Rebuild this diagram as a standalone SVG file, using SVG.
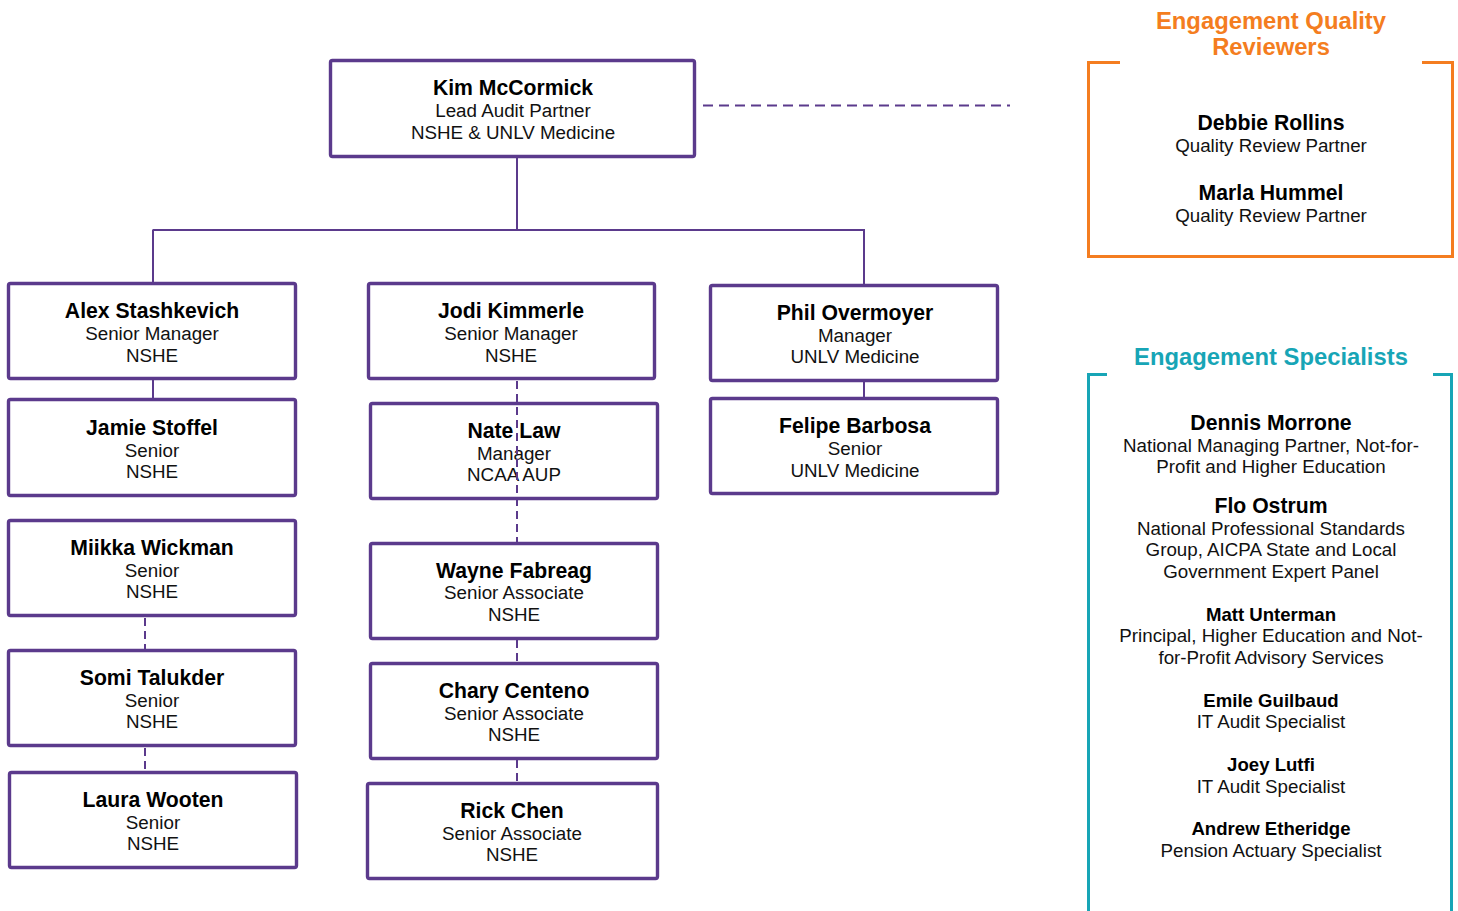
<svg xmlns="http://www.w3.org/2000/svg" width="1458" height="911" viewBox="0 0 1458 911">
<style>
.box{fill:#fff;stroke:#5B3A8C;stroke-width:3.4}
.n{font-family:"Liberation Sans",Arial,sans-serif;font-weight:bold;font-size:21.2px;fill:#000;text-anchor:middle}
.t{font-family:"Liberation Sans",Arial,sans-serif;font-size:18.8px;fill:#111;text-anchor:middle}
.sn{font-family:"Liberation Sans",Arial,sans-serif;font-weight:bold;font-size:18.6px;fill:#000;text-anchor:middle}
.st{font-family:"Liberation Sans",Arial,sans-serif;font-size:18.75px;fill:#111;text-anchor:middle}
.solid{stroke:#5B3A8C;stroke-width:2;fill:none}
.dash{stroke:#5B3A8C;stroke-width:2;fill:none;stroke-dasharray:8 5}
.hd{font-family:"Liberation Sans",Arial,sans-serif;font-weight:bold;font-size:23.8px;text-anchor:middle}
</style>
<rect width="1458" height="911" fill="#fff"/>

<g id="kim"><rect class="box" x="330.5" y="60.5" width="364" height="96" rx="2"/>
<text class="n" x="513" y="95">Kim McCormick</text><text class="t" x="513" y="117">Lead Audit Partner</text><text class="t" x="513" y="139">NSHE &amp; UNLV Medicine</text></g>

<g id="alex"><rect class="box" x="8.5" y="283.5" width="287" height="95" rx="2"/>
<text class="n" x="152" y="318">Alex Stashkevich</text><text class="t" x="152" y="340">Senior Manager</text><text class="t" x="152" y="362">NSHE</text></g>
<g id="jamie"><rect class="box" x="8.5" y="399.5" width="287" height="96" rx="2"/>
<text class="n" x="152" y="435">Jamie Stoffel</text><text class="t" x="152" y="457">Senior</text><text class="t" x="152" y="478">NSHE</text></g>
<g id="miikka"><rect class="box" x="8.5" y="520.5" width="287" height="95" rx="2"/>
<text class="n" x="152" y="555">Miikka Wickman</text><text class="t" x="152" y="577">Senior</text><text class="t" x="152" y="598">NSHE</text></g>
<g id="somi"><rect class="box" x="8.5" y="650.5" width="287" height="95" rx="2"/>
<text class="n" x="152" y="685">Somi Talukder</text><text class="t" x="152" y="707">Senior</text><text class="t" x="152" y="728">NSHE</text></g>
<g id="laura"><rect class="box" x="9.5" y="772.5" width="287" height="95" rx="2"/>
<text class="n" x="153" y="807">Laura Wooten</text><text class="t" x="153" y="829">Senior</text><text class="t" x="153" y="850">NSHE</text></g>

<g id="jodi"><rect class="box" x="368.5" y="283.5" width="286" height="95" rx="2"/>
<text class="n" x="511" y="318">Jodi Kimmerle</text><text class="t" x="511" y="340">Senior Manager</text><text class="t" x="511" y="362">NSHE</text></g>
<g id="nate"><rect class="box" x="370.5" y="403.5" width="287" height="95" rx="2"/>
<text class="n" x="514" y="438">Nate Law</text><text class="t" x="514" y="460">Manager</text><text class="t" x="514" y="481">NCAA AUP</text></g>
<g id="wayne"><rect class="box" x="370.5" y="543.5" width="287" height="95" rx="2"/>
<text class="n" x="514" y="578">Wayne Fabreag</text><text class="t" x="514" y="599">Senior Associate</text><text class="t" x="514" y="621">NSHE</text></g>
<g id="chary"><rect class="box" x="370.5" y="663.5" width="287" height="95" rx="2"/>
<text class="n" x="514" y="698">Chary Centeno</text><text class="t" x="514" y="720">Senior Associate</text><text class="t" x="514" y="741">NSHE</text></g>
<g id="rick"><rect class="box" x="367.5" y="783.5" width="290" height="95" rx="2"/>
<text class="n" x="512" y="818">Rick Chen</text><text class="t" x="512" y="840">Senior Associate</text><text class="t" x="512" y="861">NSHE</text></g>

<g id="phil"><rect class="box" x="710.5" y="285.5" width="287" height="95" rx="2"/>
<text class="n" x="855" y="320">Phil Overmoyer</text><text class="t" x="855" y="342">Manager</text><text class="t" x="855" y="363">UNLV Medicine</text></g>
<g id="felipe"><rect class="box" x="710.5" y="398.5" width="287" height="95" rx="2"/>
<text class="n" x="855" y="433">Felipe Barbosa</text><text class="t" x="855" y="455">Senior</text><text class="t" x="855" y="477">UNLV Medicine</text></g>

<g id="connectors">
<path class="solid" d="M517,158 V230 M152.5,230 H865 M153,230 V282 M864,230 V284 M153,380 V398 M864,382 V397"/>
<path class="dash" d="M517,381 V542 M517,640 V662 M517,760 V782 M145,618 V649 M145,748 V771"/>
<path class="dash" d="M703,105.5 H1010" style="stroke-dasharray:10 6"/>
</g>

<g id="quality-reviewers">
<path d="M1120,62.5 H1088.5 V256.5 H1452.5 V62.5 H1422" fill="none" stroke="#F47D20" stroke-width="3"/>
<text class="hd" x="1271" y="29" fill="#F47D20">Engagement Quality</text>
<text class="hd" x="1271" y="55" fill="#F47D20">Reviewers</text>
<text class="n" x="1271" y="130">Debbie Rollins</text><text class="st" x="1271" y="152">Quality Review Partner</text>
<text class="n" x="1271" y="200">Marla Hummel</text><text class="st" x="1271" y="222">Quality Review Partner</text>
</g>

<g id="specialists">
<path d="M1107,374.5 H1088.5 V915 M1433,374.5 H1451.5 V915" fill="none" stroke="#17A5B6" stroke-width="3"/>
<text class="hd" x="1271" y="365" fill="#17A5B6">Engagement Specialists</text>
<text class="n" x="1271" y="430">Dennis Morrone</text>
<text class="st" x="1271" y="452">National Managing Partner, Not-for-</text>
<text class="st" x="1271" y="473">Profit and Higher Education</text>
<text class="n" x="1271" y="513">Flo Ostrum</text>
<text class="st" x="1271" y="535">National Professional Standards</text>
<text class="st" x="1271" y="556">Group, AICPA State and Local</text>
<text class="st" x="1271" y="578">Government Expert Panel</text>
<text class="sn" x="1271" y="621">Matt Unterman</text>
<text class="st" x="1271" y="642">Principal, Higher Education and Not-</text>
<text class="st" x="1271" y="664">for-Profit Advisory Services</text>
<text class="sn" x="1271" y="707">Emile Guilbaud</text>
<text class="st" x="1271" y="728">IT Audit Specialist</text>
<text class="sn" x="1271" y="771">Joey Lutfi</text>
<text class="st" x="1271" y="793">IT Audit Specialist</text>
<text class="sn" x="1271" y="835">Andrew Etheridge</text>
<text class="st" x="1271" y="857">Pension Actuary Specialist</text>
</g>
</svg>
